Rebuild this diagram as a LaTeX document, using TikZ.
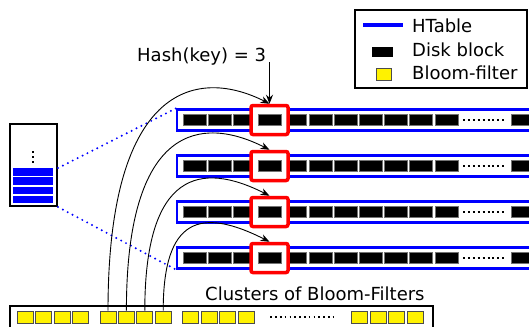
\documentclass[tikz,border=0pt]{standalone}
\usepackage{fontspec}
\setmainfont{DejaVu Sans}
\usetikzlibrary{arrows.meta,calc}
\begin{document}
\begin{tikzpicture}[x=1pt,y=-1pt,
  every node/.style={font=\fontsize{18pt}{21pt}\selectfont},
  lbl/.style={inner sep=0pt, anchor=base west},
  disk/.style={draw=black!55, fill=black, line width=0.8pt, minimum width=23pt,
    minimum height=11pt, inner sep=0pt, outer sep=0pt},
  filt/.style={draw=black!70, fill=yellow, line width=0.8pt, minimum width=16pt,
    minimum height=12pt, inner sep=0pt},
  htable/.style={draw=blue, line width=2.2pt, minimum height=21pt,
    minimum width=383pt, inner sep=0pt},
  hit/.style={draw=red, fill=white, line width=3.5pt, rounded corners=2pt,
    minimum width=37pt, minimum height=29pt, inner sep=0pt},
  membar/.style={fill=blue, minimum width=40pt, minimum height=7.5pt, inner sep=0pt},
  link/.style={blue, line width=2.2pt, dash pattern=on 0pt off 5.5pt, line cap=round},
  probe/.style={line width=0.9pt, -{Stealth[length=9pt,width=7pt]}},
  gap/.style={line width=2pt, dash pattern=on 2pt off 2.9pt},
  gapthin/.style={line width=1.6pt, dash pattern=on 1.6pt off 3.2pt}
]
\fill[white] (0,0) rectangle (529,326);
\useasboundingbox (0,0) rectangle (529,326);

% in-memory table
\node[draw, line width=2pt, minimum width=47pt, minimum height=82pt, inner sep=0pt] (mem) at (33.5,165) {};
\foreach \i in {1,...,4}
  \node[membar] (bar\i) at (33,{172+9.2*(\i-1)}) {};
\foreach \y in {151,156,161}
  \fill (32,\y) rectangle +(2,2);

% HTable rows of disk blocks
\foreach \r/\y in {1/120,2/166,3/212,4/258} {
  \node[htable] (row\r) at (368.5,\y) {};
  \foreach \k in {0,1,2,4,5,...,10}
    \node[disk] (b\r-\k) at ({194.5+25.2*\k},\y) {};
  \node[disk, minimum width=30pt] (b\r-end) at (526,\y) {};
  \draw[gap] ($(b\r-10.east)+(5,0)$) -- ($(b\r-end.west)+(-4,0)$);
  \node[hit] (hit\r) at (269.5,\y) {};
  \node[disk] (b\r-3) at ({194.5+25.2*3},\y) {};
}

% links from the table to the HTables
\draw[link] (mem.east |- bar1.north) -- (row1.north west);
\draw[link] (mem.south east) -- (row4.south west);

% clusters of Bloom filters
\node[draw, line width=1.5pt, minimum width=423pt, minimum height=39pt, inner sep=0pt] (bfbox) at (221.5,325.5) {};
\foreach \c/\s in {1/17.3,2/100,3/182.7,4/351.7}
  \foreach \i in {1,...,4}
    \node[filt] (f\c-\i) at ({\s+8+18.4*(\i-1)},317) {};
\draw[gapthin] ($(f3-4.east)+(16,0)$) -- ($(f4-1.west)+(-15,0)$);
\node[lbl] (bftitle) at (205,300) {Clusters of Bloom-Filters};

% probes from the filters to the selected blocks
\foreach \r/\h in {1/231,2/185,3/139,4/93}
  \draw[probe] (f2-\r.north) .. controls +(0,-\h) and +(-69,-35) .. (hit\r.north);

% hash lookup
\node[lbl] (hash) at (137,62) {Hash(key) = 3};
\draw[probe] (hit1.north |- hash.base) -- (hit1.north);

% legend
\node[draw, line width=1.5pt, minimum width=172pt, minimum height=78pt, inner sep=0pt] (legend) at (441,49) {};
\node[fill=blue, minimum width=40pt, minimum height=4pt, inner sep=0pt] (keyht) at (383,25) {};
\node[lbl] (txtht) at (412,33) {HTable};
\node[fill=black, minimum width=21pt, minimum height=10pt, inner sep=0pt] (keydb) at (382.5,52) {};
\node[lbl] (txtdb) at (412,57) {Disk block};
\node[filt, minimum width=15pt] (keybf) at (383.5,74) {};
\node[lbl] (txtbf) at (412,80) {Bloom-filter};
\end{tikzpicture}
\end{document}
